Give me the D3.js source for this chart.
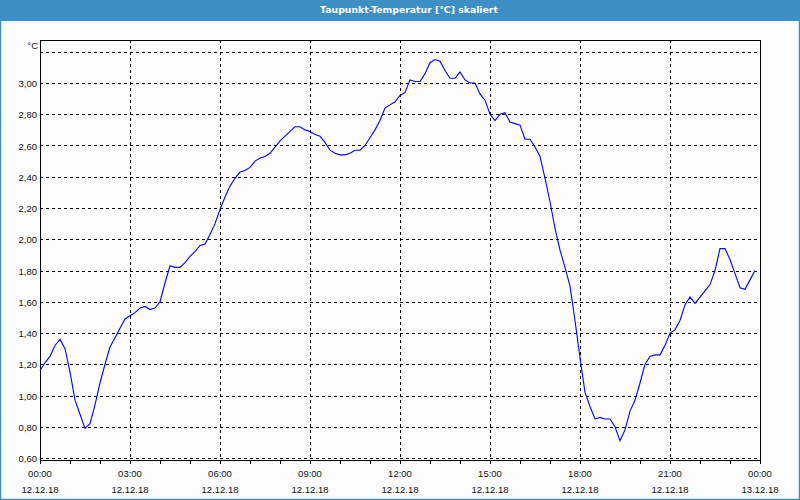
<!DOCTYPE html>
<html>
<head>
<meta charset="utf-8">
<script src="https://cdn.jsdelivr.net/npm/d3@7"></script>
<style>
html,body{margin:0;padding:0;background:#fcfdfc;}
svg{display:block;}
text{font-family:"Liberation Sans",Arial,sans-serif;}
</style>
</head>
<body>
<svg id="chart" width="800" height="500"></svg>
<script>
const title = "Taupunkt-Temperatur [°C] skaliert";
const unitLabel = "°C";
// 10-minute samples from 00:00 to 23:50, 12.12.18
const stepMinutes = 10;
const dewPoint = [
  1.16,1.21,1.25,1.32,1.36,1.30,1.15,0.97,0.88,0.79,0.82,0.94,
  1.08,1.20,1.31,1.37,1.43,1.49,1.51,1.53,1.56,1.57,1.55,1.56,
  1.60,1.72,1.83,1.82,1.82,1.85,1.89,1.92,1.96,1.97,2.03,2.10,
  2.19,2.27,2.34,2.39,2.43,2.44,2.46,2.50,2.52,2.53,2.55,2.59,
  2.63,2.66,2.69,2.72,2.72,2.70,2.69,2.67,2.66,2.62,2.57,2.55,
  2.54,2.54,2.55,2.57,2.57,2.60,2.65,2.70,2.76,2.84,2.86,2.88,
  2.92,2.94,3.02,3.01,3.01,3.06,3.13,3.15,3.14,3.08,3.03,3.03,
  3.07,3.02,3.00,3.00,2.93,2.89,2.80,2.76,2.80,2.81,2.75,2.74,
  2.73,2.64,2.64,2.59,2.53,2.39,2.24,2.07,1.93,1.82,1.70,1.48,
  1.24,1.02,0.93,0.85,0.86,0.85,0.85,0.80,0.71,0.78,0.90,0.97,
  1.08,1.20,1.25,1.26,1.26,1.32,1.40,1.42,1.48,1.58,1.63,1.59,
  1.63,1.67,1.71,1.80,1.94,1.94,1.87,1.78,1.69,1.68,1.74,1.80
];
const yTicks = [0.60,0.80,1.00,1.20,1.40,1.60,1.80,2.00,2.20,2.40,2.60,2.80,3.00,3.20];
const yTickLabels = ["0,60","0,80","1,00","1,20","1,40","1,60","1,80","2,00","2,20","2,40","2,60","2,80","3,00",""];
const xMajorHours = [0,3,6,9,12,15,18,21,24];
const xTimeLabels = ["00:00","03:00","06:00","09:00","12:00","15:00","18:00","21:00","00:00"];
const xDateLabels = ["12.12.18","12.12.18","12.12.18","12.12.18","12.12.18","12.12.18","12.12.18","12.12.18","13.12.18"];
const xMinorHours = d3.range(0,25);

const W = 800, H = 500;
const plot = {l:40, r:760, t:40, b:460};
const svg = d3.select("#chart");

// window frame and title bar
svg.append("rect").attr("x",0).attr("y",0).attr("width",W).attr("height",H).attr("fill","#fcfdfc");
svg.append("rect").attr("x",0).attr("y",0).attr("width",W).attr("height",21).attr("fill","#3d8fc6");
svg.append("rect").attr("x",0.5).attr("y",0.5).attr("width",W-1).attr("height",H-1)
  .attr("fill","none").attr("stroke","#3d8fc6").attr("stroke-width",1.5);
svg.append("text").attr("x",409).attr("y",12.5).attr("text-anchor","middle")
  .style("font-family","'DejaVu Sans',Verdana,sans-serif")
  .attr("fill","#ffffff").attr("font-size",9.3).attr("font-weight","bold").text(title);

const x = d3.scaleLinear().domain([0,24*60]).range([plot.l,plot.r]);
const y = d3.scaleLinear().domain([0.6 - 2/156.25, 0.6 + 418/156.25]).range([plot.b,plot.t]);

const g = svg.append("g");
// horizontal grid
g.selectAll("line.hg").data(yTicks).enter().append("line")
  .attr("x1",plot.l).attr("x2",plot.r)
  .attr("y1",d=>Math.round(y(d))+0.5).attr("y2",d=>Math.round(y(d))+0.5)
  .attr("stroke","#000").attr("stroke-dasharray","3,3").attr("stroke-width",1);
// vertical grid
g.selectAll("line.vg").data(xMajorHours.slice(1,-1)).enter().append("line")
  .attr("y1",plot.t).attr("y2",plot.b)
  .attr("x1",d=>Math.round(x(d*60))+0.5).attr("x2",d=>Math.round(x(d*60))+0.5)
  .attr("stroke","#000").attr("stroke-dasharray","3,3").attr("stroke-width",1);

// frame
svg.append("rect").attr("x",plot.l+0.5).attr("y",plot.t+0.5)
  .attr("width",plot.r-plot.l).attr("height",plot.b-plot.t)
  .attr("fill","none").attr("stroke","#000").attr("stroke-width",1);

// x ticks
svg.selectAll("line.xt").data(xMinorHours).enter().append("line")
  .attr("x1",d=>Math.round(x(d*60))+0.5).attr("x2",d=>Math.round(x(d*60))+0.5)
  .attr("y1",plot.b).attr("y2",plot.b+4).attr("stroke","#000");

// x labels
const xl = svg.selectAll("g.xl").data(xMajorHours).enter().append("g")
  .attr("transform",d=>`translate(${x(d*60)},0)`);
xl.append("text").attr("y",477).attr("text-anchor","middle").attr("font-size",9.5).attr("fill","#111")
  .text((d,i)=>xTimeLabels[i]);
xl.append("text").attr("y",492.5).attr("text-anchor","middle").attr("font-size",9.5).attr("fill","#111")
  .text((d,i)=>xDateLabels[i]);

// y labels
svg.selectAll("text.yl").data(yTicks).enter().append("text")
  .attr("x",37).attr("y",d=>y(d)+4).attr("text-anchor","end")
  .attr("font-size",9.5).attr("fill","#111").text((d,i)=>yTickLabels[i]);
svg.append("text").attr("x",38).attr("y",48.5).attr("text-anchor","end")
  .attr("font-size",9.5).attr("fill","#111").text(unitLabel);

// data line
const line = d3.line().x((d,i)=>x(i*stepMinutes)).y(d=>y(d));
svg.append("path").datum(dewPoint).attr("d",line)
  .attr("fill","none").attr("stroke","#0000ff").attr("stroke-width",1.1);
</script>
</body>
</html>
